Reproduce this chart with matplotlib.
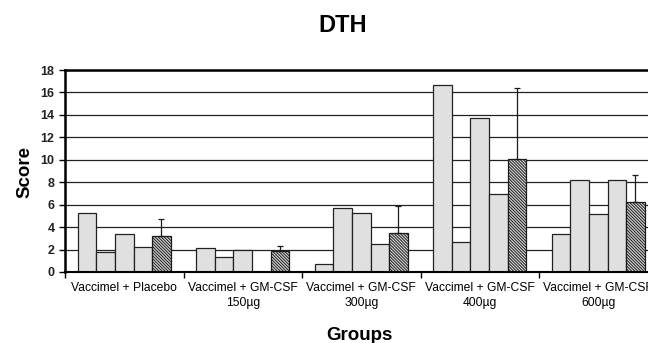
import numpy as np
import matplotlib
matplotlib.use('Agg')
import matplotlib.pyplot as plt

plt.rcParams['font.family'] = ['Liberation Sans', 'DejaVu Sans']
plt.rcParams['hatch.linewidth'] = 0.7

# Data
groups = ['Vaccimel + Placebo', 'Vaccimel + GM-CSF\n150µg', 'Vaccimel + GM-CSF\n300µg',
          'Vaccimel + GM-CSF\n400µg', 'Vaccimel + GM-CSF\n600µg']
patient1 = [5.27, 2.18, 0.74, 16.70, 3.36]
patient2 = [1.75, 1.34, 5.71, 2.71, 8.18]
patient3 = [3.37, 2.00, 5.24, 13.69, 5.21]
patient4 = [2.23, np.nan, 2.47, 6.93, 8.18]
mean = [3.19, 1.85, 3.51, 10.03, 6.25]
mean_err = [1.49, 0.47, 2.38, 6.34, 2.38]

fig = plt.figure(figsize=(6.48, 3.43), dpi=100)
ax = fig.add_axes([0.1003, 0.2070, 0.9144, 0.5889])

n = 5
width = 1 / (n + 1.37)
start = (1 - n * width) / 2
x = np.arange(len(groups))

series = [patient1, patient2, patient3, patient4]
for i, vals in enumerate(series):
    ax.bar(x + start + (i + 0.5) * width, vals, width=width, color='#e0e0e0',
           edgecolor='#222222', linewidth=0.9, zorder=2)

xm = x + start + 4.5 * width
ax.bar(xm, mean, width=width, color='#d8d8d8', edgecolor='#1a1a1a',
       linewidth=0.9, hatch='\\' * 11, zorder=2)
ax.errorbar(xm, mean, yerr=[np.zeros(len(mean)), mean_err], fmt='none',
            ecolor='#1a1a1a', elinewidth=0.9, capsize=2.5, capthick=0.9, zorder=3)

ax.set_xlim(0, 5)
ax.set_ylim(0, 18)
ax.set_yticks(np.arange(0, 19, 2))
ax.yaxis.grid(True, color='#222222', linewidth=0.9)
ax.set_axisbelow(True)

ax.set_xticks(np.arange(0, 6))
ax.set_xticklabels([])
ax.set_xticks(x + 0.5, minor=True)
ax.set_xticklabels(groups, minor=True, fontsize=8.7, linespacing=1.3)
ax.tick_params(axis='x', which='major', direction='out', length=4, width=1)
ax.tick_params(axis='x', which='minor', length=0, pad=7.5)
ax.tick_params(axis='y', direction='out', length=4.5, width=1, pad=3,
               labelsize=9)
for lbl in ax.get_yticklabels():
    lbl.set_fontweight('bold')
    lbl.set_color('#222222')

for side in ['left', 'top']:
    ax.spines[side].set_linewidth(1.8)
ax.spines['bottom'].set_linewidth(1.5)
ax.spines['right'].set_linewidth(1.8)

fig.text(0.5285, 0.9067, 'DTH', fontsize=17, fontweight='bold', ha='center', va='baseline')
fig.text(0.0378, 0.4985, 'Score', fontsize=13.5, fontweight='bold', rotation=90,
         ha='center', va='center')
fig.text(0.555, 0.0087, 'Groups', fontsize=13.5, fontweight='bold', ha='center', va='baseline')

fig.savefig('out.png', dpi=100)
